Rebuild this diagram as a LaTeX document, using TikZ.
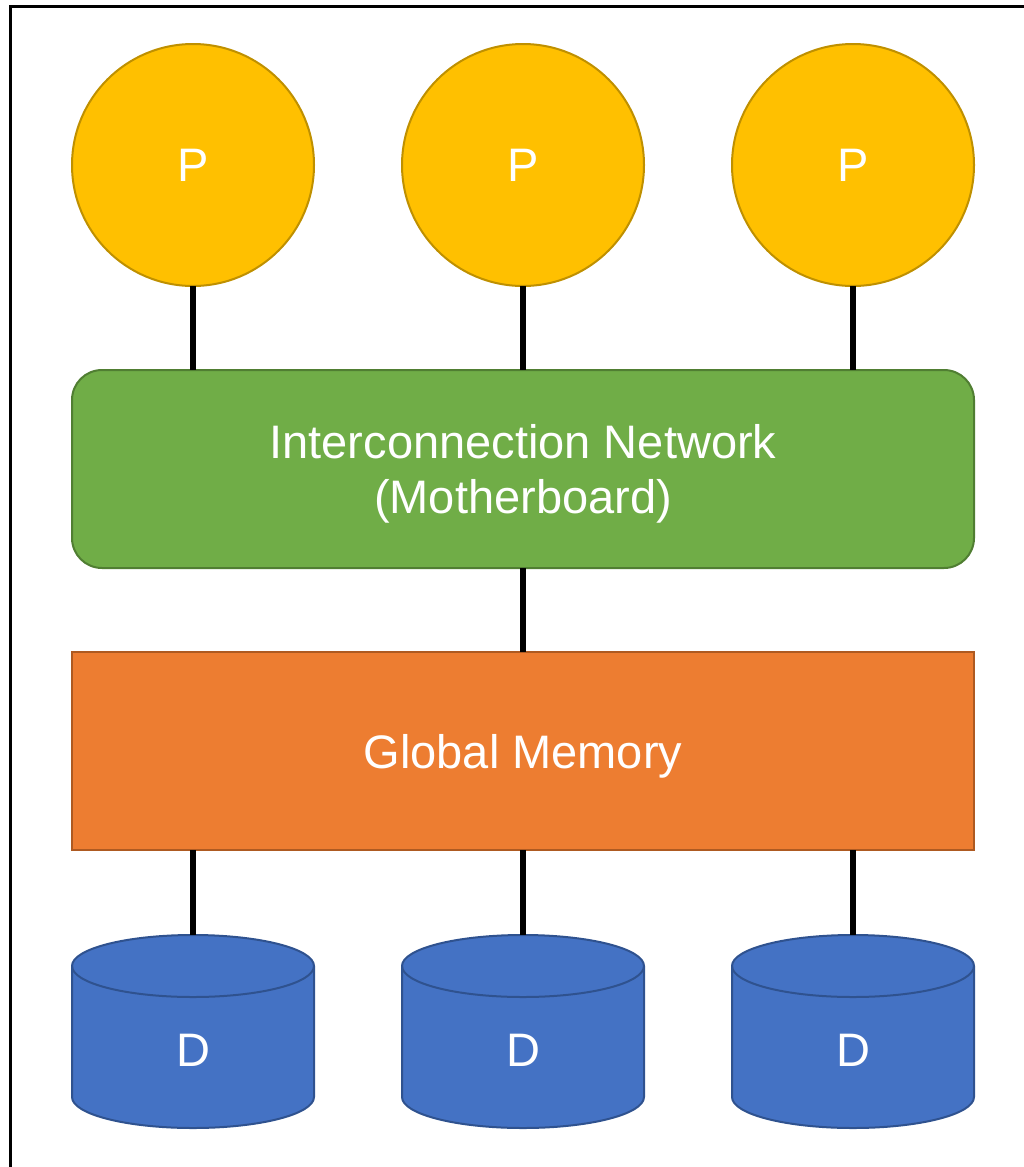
\documentclass[tikz,border=0pt]{standalone}
\usepackage{fontspec}
\setmainfont{Liberation Sans}
\usetikzlibrary{calc}
\definecolor{procfill}{HTML}{FFC000}
\definecolor{procline}{HTML}{BF9000}
\definecolor{netfill}{HTML}{70AD47}
\definecolor{netline}{HTML}{507E32}
\definecolor{memfill}{HTML}{ED7D31}
\definecolor{memline}{HTML}{AE5A21}
\definecolor{diskfill}{HTML}{4472C4}
\definecolor{diskline}{HTML}{2F528F}
\tikzset{
  proc/.style={circle,fill=procfill,draw=procline,line width=2pt,minimum size=242pt,inner sep=0pt,outer sep=0pt,text=white},
  net/.style={rectangle,rounded corners=30pt,fill=netfill,draw=netline,line width=2pt,minimum width=902pt,minimum height=198pt,align=center,text=white,text depth=0pt,outer sep=0pt},
  mem/.style={rectangle,fill=memfill,draw=memline,line width=2pt,minimum width=902pt,minimum height=198pt,text=white,text depth=0pt,outer sep=0pt},
  disk/.style={fill=diskfill,draw=diskline,line width=2pt},
  conn/.style={line width=6pt,black}
}
\begin{document}
\begin{tikzpicture}[x=1pt,y=1pt,font=\fontsize{47}{55}\selectfont]
  \useasboundingbox (0,0) rectangle (1024,-1167);
  \clip (0,0) rectangle (1024,-1167);
  \draw[line width=3pt,black] (10,-6) rectangle (1040,-1190);
  % processors
  \foreach \i/\x in {1/193,2/523,3/853}
    \node[proc] (p\i) at (\x,-165) {P};
  \node[net] (net) at (523,-469) {Interconnection Network\\(Motherboard)};
  \node[mem] (mem) at (523,-751) {Global Memory};
  % disks
  \foreach \i/\x in {1/193,2/523,3/853} {
    \fill[diskfill] (\x-121,-966) -- (\x-121,-1097) arc[start angle=180,end angle=360,x radius=121,y radius=31]
      -- (\x+121,-966) arc[start angle=0,end angle=180,x radius=121,y radius=31] -- cycle;
    \draw[disk,fill=none] (\x-121,-966) -- (\x-121,-1097) arc[start angle=180,end angle=360,x radius=121,y radius=31]
      -- (\x+121,-966) arc[start angle=0,end angle=180,x radius=121,y radius=31] -- cycle;
    \draw[disk,fill=none] (\x-121,-966) arc[start angle=180,end angle=360,x radius=121,y radius=31];
    \coordinate (d\i top) at (\x,-935);
    \node[text=white] (d\i) at (\x,-1050) {D};
  }
  % links
  \foreach \i in {1,2,3} {
    \draw[conn] (p\i) -- (p\i |- net.north);
    \draw[conn] (mem.south -| d\i top) -- (d\i top);
  }
  \draw[conn] (net) -- (mem);
\end{tikzpicture}
\end{document}
